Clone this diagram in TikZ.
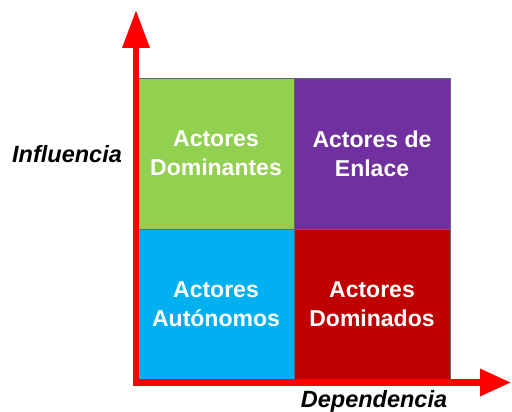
\documentclass[tikz,border=0pt]{standalone}
\usepackage{fontspec}
\setmainfont{Liberation Sans}
\usetikzlibrary{arrows.meta}
\definecolor{qgreen}{HTML}{92D050}
\definecolor{qpurple}{HTML}{7030A0}
\definecolor{qblue}{HTML}{00B0F0}
\definecolor{qred}{HTML}{C00000}
\definecolor{qborder}{HTML}{5F6775}
\definecolor{axisred}{HTML}{FF0000}
\begin{document}
\begin{tikzpicture}[x=1pt,y=-1pt,
  quad/.style={draw=qborder, line width=0.8pt, minimum width=156pt, minimum height=151pt, inner sep=0pt,
    text=white, font=\fontsize{23}{29}\selectfont\bfseries, align=center},
  axlabel/.style={font=\fontsize{23.5}{26}\selectfont\bfseries\itshape, inner sep=0pt},
  axis/.style={draw=axisred, line width=6.5pt, line join=miter,
    {Triangle[length=38pt,width=26pt]}-{Triangle[length=31pt,width=26pt]}}]
\useasboundingbox (0,0) rectangle (512,412);
\node[quad, fill=qgreen]  (dom) at (216,153.5) {Actores\\Dominantes};
\node[quad, fill=qpurple] (enl) at (372,153.5) {Actores de\\Enlace};
\node[quad, fill=qblue]   (aut) at (216,304.5) {Actores\\Autónomos};
\node[quad, fill=qred]    (dmd) at (372,304.5) {Actores\\Dominados};
\coordinate (ytop) at (136,10);
\coordinate (corner) at (136,382.5);
\coordinate (xend) at (511,382.5);
\draw[axis] (ytop) -- (corner) -- (xend);
\node[axlabel] (infl) at (67,154) {Influencia};
\node[axlabel] (dep) at (374,401) {Dependencia};
\end{tikzpicture}
\end{document}
